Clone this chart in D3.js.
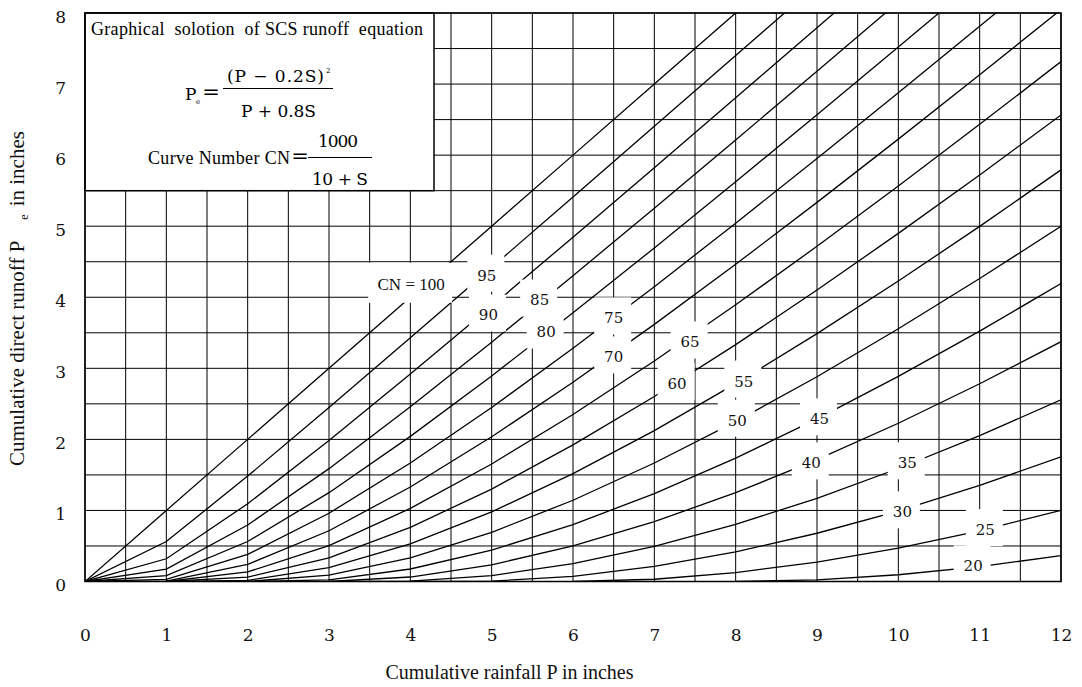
<!DOCTYPE html>
<html>
<head>
<meta charset="utf-8">
<script src="https://cdn.jsdelivr.net/npm/d3@7"></script>
<style>
  html, body { margin: 0; padding: 0; background: #fff; }
  svg { display: block; }
</style>
</head>
<body>
<svg id="chart" width="1082" height="687"></svg>
<script>
// ---------------- DATA ----------------
const rainfallP = [0,1,2,3,4,5,6,7,8,9,10,11,12];
const curveNumbers = [100,95,90,85,80,75,70,65,60,55,50,45,40,35,30,25,20];
const runoff100 = [0,1,2,3,4,5,6,7,8,9,10,11,12];
const runoff95 = [0,0.563,1.483,2.449,3.431,4.420,5.412,6.406,7.401,8.398,9.395,10.393,11.391];
const runoff90 = [0,0.320,1.094,1.984,2.919,3.876,4.846,5.823,6.806,7.792,8.780,9.771,10.762];
const runoff85 = [0,0.174,0.795,1.588,2.458,3.368,4.303,5.253,6.213,7.182,8.155,9.133,10.115];
const runoff80 = [0,0.083,0.563,1.250,2.042,2.893,3.781,4.694,5.625,6.568,7.521,8.481,9.446];
const runoff75 = [0,0.030,0.381,0.961,1.667,2.449,3.282,4.149,5.042,5.952,6.877,7.813,8.758];
const runoff70 = [0,0.005,0.241,0.714,1.330,2.036,2.805,3.618,4.464,5.335,6.225,7.130,8.048];
const runoff65 = [null,0,0.135,0.506,1.029,1.654,2.351,3.103,3.894,4.717,5.565,6.433,7.316];
const runoff60 = [null,0,0.061,0.333,0.762,1.301,1.922,2.604,3.333,4.101,4.899,5.721,6.564];
const runoff55 = [null,0,0.016,0.195,0.530,0.980,1.518,2.124,2.784,3.488,4.228,4.997,5.792];
const runoff50 = [null,null,0,0.091,0.333,0.692,1.143,1.667,2.250,2.882,3.556,4.263,5.000];
const runoff45 = [null,null,0,0.024,0.176,0.442,0.801,1.237,1.736,2.289,2.886,3.523,4.193];
const runoff40 = [null,null,null,0,0.063,0.235,0.500,0.842,1.250,1.714,2.227,2.783,3.375];
const runoff35 = [null,null,null,0,0.004,0.083,0.251,0.494,0.804,1.171,1.590,2.053,2.556];
const runoff30 = [null,null,null,null,0,0.005,0.072,0.212,0.417,0.679,0.992,1.352,1.754];
const runoff25 = [null,null,null,null,null,null,0,0.032,0.125,0.273,0.471,0.714,1.000];
const runoff20 = [null,null,null,null,null,null,null,null,0,0.024,0.095,0.209,0.364];

const xTickLabels = ["0","1","2","3","4","5","6","7","8","9","10","11","12"];
const yTickLabels = ["0","1","2","3","4","5","6","7","8"];

// curve labels, anchored in data units (P, Pe)
const labelText = ["CN = 100","95","90","85","80","75","70","65","60","55","50","45","40","35","30","25","20"];
const labelP = [4.01,4.94,4.96,5.59,5.67,6.50,6.50,7.44,7.28,8.10,8.02,9.03,8.93,10.11,10.05,11.07,10.92];
const labelQ = [4.19,4.31,3.75,3.96,3.51,3.71,3.16,3.37,2.79,2.82,2.27,2.29,1.67,1.67,0.98,0.73,0.22];

const runoffSeries = [runoff100,runoff95,runoff90,runoff85,runoff80,runoff75,runoff70,runoff65,
  runoff60,runoff55,runoff50,runoff45,runoff40,runoff35,runoff30,runoff25,runoff20];
const curves = curveNumbers.map((cn, i) => ({cn, values: runoffSeries[i]}));

// ---------------- LAYOUT ----------------
const svg = d3.select("#chart");
const pL = 85, pR = 1061, pT = 13, pB = 581.5;
const x = d3.scaleLinear().domain([0, 12]).range([pL, pR]);
const y = d3.scaleLinear().domain([0, 8]).range([pB, pT]);

const serifWords = "'Liberation Serif','Times New Roman',serif";
const serifNums = "'DejaVu Serif',serif";

svg.append("defs").append("clipPath").attr("id", "plotClip")
  .append("rect").attr("x", pL).attr("y", pT)
  .attr("width", pR - pL).attr("height", pB - pT);

// grid
const grid = svg.append("g").attr("stroke", "#000").attr("stroke-width", 1).attr("fill", "none");
const xGrid = d3.range(0, 12.001, 0.5);
const yGrid = d3.range(0, 8.001, 0.5);
grid.selectAll("line.v").data(xGrid).join("line").attr("class", "v")
  .attr("x1", d => x(d)).attr("x2", d => x(d)).attr("y1", pT).attr("y2", pB);
grid.selectAll("line.h").data(yGrid).join("line").attr("class", "h")
  .attr("x1", pL).attr("x2", pR).attr("y1", d => y(d)).attr("y2", d => y(d));

// curves
const line = d3.line()
  .defined(d => d.q !== null)
  .x(d => x(d.p)).y(d => y(d.q));
svg.append("g").attr("clip-path", "url(#plotClip)")
  .selectAll("path").data(curves).join("path")
  .attr("d", c => line(rainfallP.map((p, i) => ({p, q: c.values[i]}))))
  .attr("fill", "none").attr("stroke", "#000").attr("stroke-width", 1.3);

// labels with white masks
const lab = svg.append("g");
labelText.forEach((t, i) => {
  const cx = x(labelP[i]), cy = y(labelQ[i]);
  const isCN = t.startsWith("CN");
  const w = isCN ? 84 : 37, h = isCN ? 40 : 37;
  lab.append("rect").attr("x", cx - w / 2 - 1).attr("y", cy - h / 2 - (isCN ? 1 : 2))
    .attr("width", w).attr("height", h).attr("fill", "#fff");
  lab.append("text").attr("x", cx).attr("y", cy).attr("dy", isCN ? "0.34em" : "0.36em")
    .attr("text-anchor", "middle")
    .attr("font-family", isCN ? serifWords : serifNums)
    .attr("font-size", isCN ? 17 : 15).attr("fill", "#111").text(t);
});

// formula box
const box = svg.append("g");
box.append("rect").attr("x", pL).attr("y", pT).attr("width", 434 - pL).attr("height", 190.7 - pT)
  .attr("fill", "#fff").attr("stroke", "#000").attr("stroke-width", 1.5);
box.append("text").attr("x", 91).attr("y", 35).attr("xml:space", "preserve")
  .attr("font-family", serifWords).attr("font-size", 18)
  .attr("textLength", 332).attr("lengthAdjust", "spacing")
  .text("Graphical  solotion  of SCS runoff  equation");
box.append("text").attr("x", 185).attr("y", 100).attr("font-family", serifNums).attr("font-size", 17).text("P");
box.append("text").attr("x", 196).attr("y", 104).attr("font-family", serifNums).attr("font-size", 7).text("e");
box.append("text").attr("x", 211).attr("y", 98.5).attr("text-anchor", "middle").attr("font-family", serifNums).attr("font-size", 21).text("=");
box.append("line").attr("x1", 223).attr("x2", 333).attr("y1", 88.5).attr("y2", 88.5).attr("stroke", "#000").attr("stroke-width", 1.2);
box.append("text").attr("x", 227).attr("y", 82).attr("font-family", serifNums).attr("font-size", 17)
  .attr("textLength", 97).attr("lengthAdjust", "spacing").text("(P \u2212 0.2S)");
box.append("text").attr("x", 326).attr("y", 73).attr("font-family", serifNums).attr("font-size", 7).text("2");
box.append("text").attr("x", 241).attr("y", 117).attr("font-family", serifNums).attr("font-size", 17)
  .attr("textLength", 75).attr("lengthAdjust", "spacing").text("P + 0.8S");
box.append("text").attr("x", 148).attr("y", 164).attr("font-family", serifWords).attr("font-size", 18)
  .attr("textLength", 142).attr("lengthAdjust", "spacing").text("Curve Number CN");
box.append("text").attr("x", 300).attr("y", 163).attr("text-anchor", "middle").attr("font-family", serifNums).attr("font-size", 21).text("=");
box.append("line").attr("x1", 308).attr("x2", 372).attr("y1", 157.5).attr("y2", 157.5).attr("stroke", "#000").attr("stroke-width", 1.2);
box.append("text").attr("x", 318).attr("y", 147).attr("font-family", serifNums).attr("font-size", 17)
  .attr("textLength", 40).attr("lengthAdjust", "spacing").text("1000");
box.append("text").attr("x", 312).attr("y", 185).attr("font-family", serifNums).attr("font-size", 17)
  .attr("textLength", 56).attr("lengthAdjust", "spacing").text("10 + S");

// frame
svg.append("rect").attr("x", pL).attr("y", pT).attr("width", pR - pL).attr("height", pB - pT)
  .attr("fill", "none").attr("stroke", "#000").attr("stroke-width", 1.5);

// axes (labels only)
const xAxis = d3.axisBottom(x).tickValues(d3.range(0, 13)).tickFormat((d, i) => xTickLabels[i])
  .tickSize(0).tickPadding(47);
const gx = svg.append("g").attr("transform", `translate(0,${pB})`).call(xAxis);
gx.select(".domain").remove();
gx.selectAll("text").attr("font-family", serifNums).attr("font-size", 17).attr("fill", "#111");

const yAxis = d3.axisLeft(y).tickValues(d3.range(0, 9)).tickFormat((d, i) => yTickLabels[i])
  .tickSize(0).tickPadding(19);
const gy = svg.append("g").attr("transform", `translate(${pL},0)`).call(yAxis);
gy.select(".domain").remove();
gy.selectAll("text").attr("font-family", serifNums).attr("font-size", 17).attr("fill", "#111").attr("dy", "0.55em");

// axis titles
svg.append("text").attr("x", 509.5).attr("y", 679).attr("text-anchor", "middle")
  .attr("font-family", serifWords).attr("font-size", 20).attr("fill", "#111")
  .text("Cumulative rainfall P in inches");

const yt = svg.append("text").attr("transform", "translate(24,466) rotate(-90)")
  .attr("font-family", serifWords).attr("font-size", 21).attr("fill", "#111");
yt.append("tspan").text("Cumulative direct runoff P");
yt.append("tspan").attr("dx", 21).attr("dy", 4).attr("font-size", 12).text("e");
yt.append("tspan").attr("dx", 8).attr("dy", -4).text("in inches");
</script>
</body>
</html>
